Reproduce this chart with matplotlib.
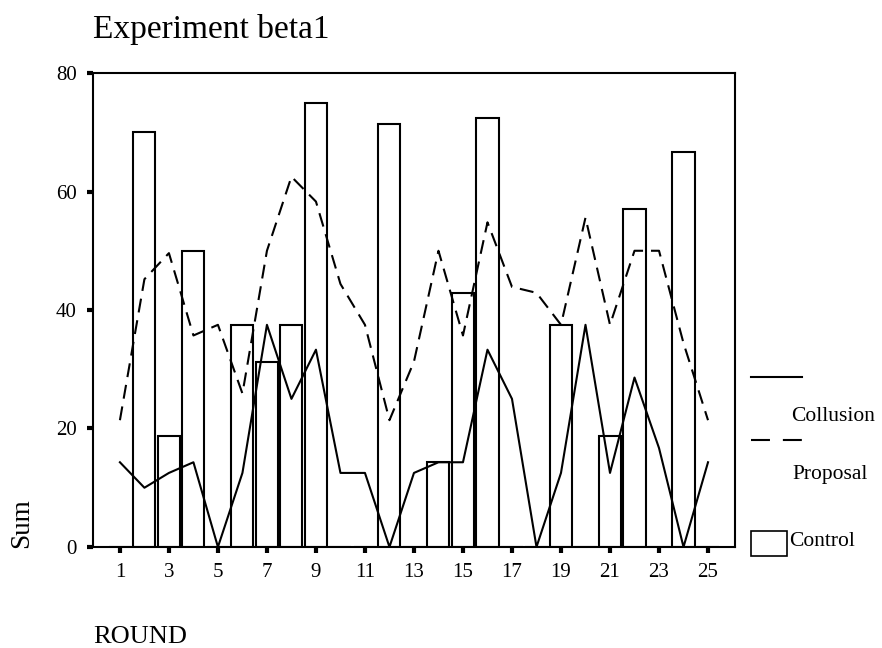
import numpy as np
import matplotlib
matplotlib.use('Agg')
from matplotlib import pyplot as plt
from matplotlib.lines import Line2D
from matplotlib.patches import Rectangle

rounds = np.arange(1, 26)
control = [0, 70.0, 18.75, 50.0, 0, 37.5, 31.25, 37.5, 75.0, 0, 0, 71.4, 0,
           14.3, 42.9, 72.4, 0, 0, 37.5, 0, 18.75, 57.1, 0, 66.7, 0]
collusion = [14.3, 10.0, 12.5, 14.3, 0, 12.5, 37.5, 25.0, 33.3, 12.5, 12.5, 0,
             12.5, 14.3, 14.3, 33.3, 25.0, 0, 12.5, 37.5, 12.5, 28.6, 16.7, 0, 14.3]
proposal = [21.4, 45.2, 49.6, 35.7, 37.5, 25.9, 50.0, 62.5, 58.3, 44.4, 37.5, 21.4,
            31.3, 50.0, 35.7, 54.8, 43.9, 42.9, 37.5, 55.6, 37.5, 50.0, 50.0, 34.4, 21.4]
xticks = list(range(1, 26, 2))
yticks = [0, 20, 40, 60, 80]

plt.rcParams['font.family'] = ['Liberation Serif', 'DejaVu Serif']

fig = plt.figure(figsize=(8.82, 6.48), dpi=100)
ax = fig.add_axes([0.1054, 0.1559, 0.7279, 0.7314])

ax.bar(rounds, control, width=0.9, facecolor='white', edgecolor='black', linewidth=1.5, zorder=2)
ax.plot(rounds, collusion, color='black', linewidth=1.5, zorder=3)
ax.plot(rounds, proposal, color='black', linewidth=1.5, linestyle=(0, (6.7, 3.8)), zorder=3)

ax.set_xlim(-0.1, 26.1)
ax.set_ylim(0, 80)
ax.set_xticks(xticks)
ax.set_yticks(yticks)
ax.tick_params(direction='out', length=4, width=3, labelsize=15, pad=7.5)
for s in ax.spines.values():
    s.set_linewidth(1.5)

fig.text(0.106, 0.9414, 'Experiment beta1', fontsize=24, ha='left', va='baseline')
fig.text(0.025, 0.193, 'Sum', fontsize=19.5, rotation=90, ha='center', va='center')
fig.text(0.106, 0.008, 'ROUND', fontsize=19, ha='left', va='baseline')

# legend, drawn by hand to keep the handle-above-label layout
fig.add_artist(Line2D([0.851, 0.909], [0.4187, 0.4187], color='black', linewidth=1.5))
fig.text(0.897, 0.3580, 'Collusion', fontsize=15.5, ha='left', va='center')
fig.add_artist(Line2D([0.851, 0.909], [0.3210, 0.3210], color='black', linewidth=1.5,
                      linestyle=(0, (9.1, 6.2))))
fig.text(0.899, 0.2680, 'Proposal', fontsize=15.5, ha='left', va='center')
fig.add_artist(Rectangle((0.851, 0.1420), 0.0417, 0.0390, transform=fig.transFigure,
                         facecolor='white', edgecolor='black', linewidth=1.2))
fig.text(0.895, 0.1636, 'Control', fontsize=15.5, ha='left', va='center')

fig.savefig('out.png', dpi=100)
